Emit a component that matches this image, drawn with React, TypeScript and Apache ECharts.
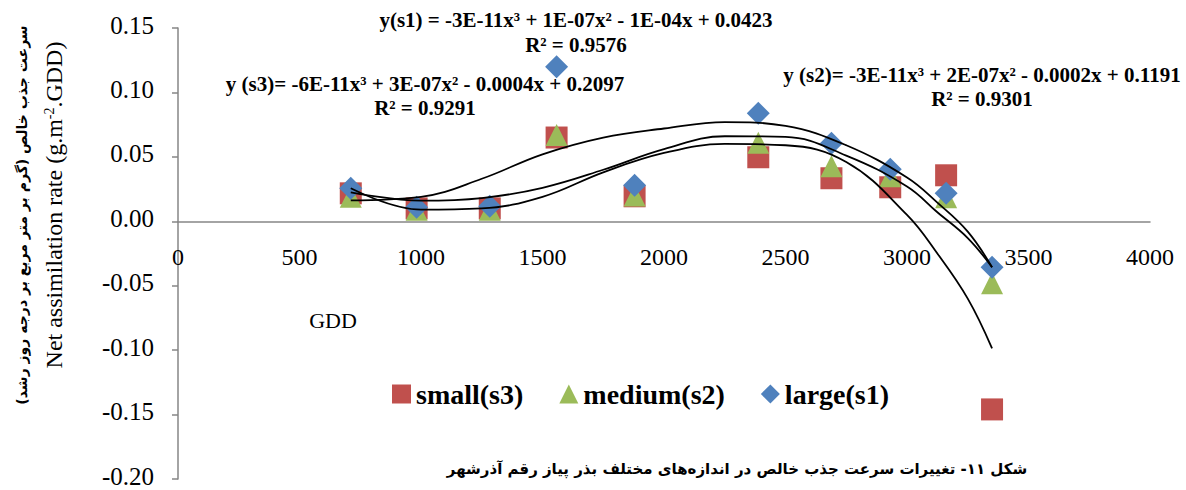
import React, { useEffect, useRef } from "react";
import * as echarts from "echarts";

// Growing degree days at each sampling date
const gdd = [711, 982, 1283, 1558, 1879, 2388, 2689, 2931, 3161, 3350];

// Net assimilation rate per seed size
const small = [0.0217, 0.01, 0.01, 0.065, 0.0194, 0.0497, 0.0334, 0.0264, 0.0357, -0.146];
const medium = [0.019, 0.009, 0.009, 0.067, 0.02, 0.061, 0.0427, 0.035, 0.0186, -0.048];
const large = [0.0256, 0.0109, 0.0116, 0.12, 0.028, 0.0839, 0.0606, 0.0404, 0.0217, -0.0357];

// Third-order trend curves, sampled along the GDD range
const trendGdd = [711, 1000, 1250, 1500, 1750, 2000, 2250, 2500, 2750, 3000, 3125, 3250, 3350];
const trendSmall = [0.0256, 0.009, 0.01, 0.019, 0.038, 0.053, 0.06, 0.059, 0.046, 0.005, -0.025, -0.06, -0.0986];
const trendMedium = [0.0225, 0.016, 0.018, 0.026, 0.04, 0.056, 0.066, 0.0655, 0.051, 0.027, 0.007, -0.013, -0.0357];
const trendLarge = [0.0163, 0.019, 0.033, 0.052, 0.065, 0.072, 0.077, 0.074, 0.059, 0.034, 0.0145, -0.008, -0.0357];

const seriesNames = ["small(s3)", "medium(s2)", "large(s1)"];
const equations = [
  "y(s1) = -3E-11x³ + 1E-07x² - 1E-04x + 0.0423",
  "y (s2)= -3E-11x³ + 2E-07x² - 0.0002x + 0.1191",
  "y (s3)= -6E-11x³ + 3E-07x² - 0.0004x + 0.2097",
];
const rSquared = ["R² = 0.9576", "R² = 0.9301", "R² = 0.9291"];

const xTitle = "GDD";
const yTitleFa = "سرعت جذب خالص (گرم بر متر مربع بر درجه روز رشد)";
const caption = "شکل ۱۱- تغییرات سرعت جذب خالص در اندازه‌های مختلف بذر پیاز رقم آذرشهر";

const serif = "'Times New Roman', 'Liberation Serif', serif";
const faFont = "'DejaVu Sans', 'Noto Sans', sans-serif";
const RLM = "\u200F";

const GRID_TOP = 28;
const GRID_BOTTOM = 11;
const HEIGHT = 490;
const Y_MIN = -0.2;
const Y_MAX = 0.15;

export default function App() {
  const ref = useRef<HTMLDivElement>(null);

  useEffect(() => {
    if (!ref.current) return;
    const chart = echarts.init(ref.current, null, { renderer: "svg" });
    const pts = (ys: number[]) => gdd.map((g, i) => [g, ys[i]]);
    const trend = (ys: number[]) => trendGdd.map((g, i) => [g, ys[i]]);

    // lift the GDD axis from the bottom edge up to the zero line
    const plotH = HEIGHT - GRID_TOP - GRID_BOTTOM;
    const zeroOffset = -plotH * (0 - Y_MIN) / (Y_MAX - Y_MIN);

    const eqText = (text: string, x: number, y: number) => ({
      type: "text",
      x,
      y,
      silent: true,
      style: {
        text,
        fontFamily: serif,
        fontWeight: "bold",
        fontSize: 21,
        fill: "#000",
        align: "center",
        verticalAlign: "middle",
      },
    });

    const trendSeries = (data: number[][]) => ({
      type: "line",
      data,
      smooth: 0.4,
      showSymbol: false,
      silent: true,
      z: 5,
      lineStyle: { color: "#000", width: 1.8 },
      legendHoverLink: false,
    });

    chart.setOption({
      animation: false,
      grid: {
        left: 178,
        right: 36,
        top: GRID_TOP,
        bottom: GRID_BOTTOM,
        containLabel: false,
        outerBoundsMode: "none",
      },
      xAxis: {
        type: "value",
        min: 0,
        max: 4000,
        interval: 500,
        position: "bottom",
        offset: zeroOffset,
        axisLine: { onZero: false, lineStyle: { color: "#868686", width: 1.5 } },
        axisTick: { show: false },
        splitLine: { show: false },
        axisLabel: {
          margin: 24,
          color: "#000",
          fontFamily: serif,
          fontSize: 24,
          formatter: (v: number) => String(v),
        },
      },
      yAxis: {
        type: "value",
        min: Y_MIN,
        max: Y_MAX,
        interval: 0.05,
        axisLine: { show: true, onZero: false, lineStyle: { color: "#868686", width: 1.5 } },
        axisTick: { show: true, length: 6, lineStyle: { color: "#868686", width: 1.5 } },
        splitLine: { show: false },
        axisLabel: {
          margin: 24,
          formatter: (v: number) => `{v|${Math.abs(v) < 1e-9 ? "0.00" : v.toFixed(2)}}`,
          rich: {
            v: {
              color: "#000",
              fontFamily: serif,
              fontSize: 25,
              lineHeight: 18,
              padding: [0, 0, 6, 0],
            },
          },
        },
      },
      legend: {
        left: 392,
        top: 380,
        padding: 0,
        itemWidth: 19,
        itemHeight: 19,
        itemGap: 36,
        textStyle: { fontFamily: serif, fontWeight: "bold", fontSize: 28, color: "#000" },
        data: [
          { name: seriesNames[0], icon: "rect" },
          { name: seriesNames[1], icon: "triangle" },
          { name: seriesNames[2], icon: "diamond" },
        ],
      },
      series: [
        {
          name: seriesNames[0],
          type: "scatter",
          data: pts(small),
          symbol: "rect",
          symbolSize: 22,
          itemStyle: { color: "#C0504D", opacity: 1 },
          z: 2,
        },
        {
          name: seriesNames[1],
          type: "scatter",
          data: pts(medium),
          symbol: "triangle",
          symbolSize: 22,
          itemStyle: { color: "#9BBB59", opacity: 1 },
          z: 3,
        },
        {
          name: seriesNames[2],
          type: "scatter",
          data: pts(large),
          symbol: "diamond",
          symbolSize: 23,
          itemStyle: { color: "#4F81BD", opacity: 1 },
          z: 4,
        },
        trendSeries(trend(trendSmall)),
        trendSeries(trend(trendMedium)),
        trendSeries(trend(trendLarge)),
      ],
      graphic: [
        eqText(equations[0], 576, 20),
        eqText(rSquared[0], 576, 45),
        eqText(equations[2], 425, 84),
        eqText(rSquared[2], 425, 108),
        eqText(equations[1], 982, 75),
        eqText(rSquared[1], 982, 99),
        {
          type: "text",
          x: 333,
          y: 320,
          silent: true,
          style: {
            text: xTitle,
            fontFamily: serif,
            fontSize: 22,
            fill: "#000",
            align: "center",
            verticalAlign: "middle",
          },
        },
        {
          type: "text",
          x: 54,
          y: 205,
          rotation: Math.PI / 2,
          silent: true,
          style: {
            text: "{a|Net assimilation rate (g.m}{s|-2}{a|.GDD)}",
            align: "center",
            verticalAlign: "middle",
            rich: {
              a: { fontFamily: serif, fontSize: 24, fill: "#000" },
              s: { fontFamily: serif, fontSize: 14, fill: "#000", verticalAlign: "top" },
            },
          },
        },
        {
          type: "text",
          x: 22,
          y: 215,
          rotation: Math.PI / 2,
          silent: true,
          style: {
            text: RLM + yTitleFa + RLM,
            fontFamily: faFont,
            fontWeight: "bold",
            fontSize: 14,
            fill: "#000",
            align: "center",
            verticalAlign: "middle",
          },
        },
        {
          type: "text",
          x: 737,
          y: 469,
          silent: true,
          style: {
            text: RLM + caption + RLM,
            fontFamily: faFont,
            fontWeight: "bold",
            fontSize: 15,
            fill: "#000",
            align: "center",
            verticalAlign: "middle",
          },
        },
      ],
    });

    return () => chart.dispose();
  }, []);

  return (
    <div
      ref={ref}
      style={{ position: "fixed", left: 0, top: 0, width: 1186, height: 490, background: "#fff" }}
    />
  );
}
